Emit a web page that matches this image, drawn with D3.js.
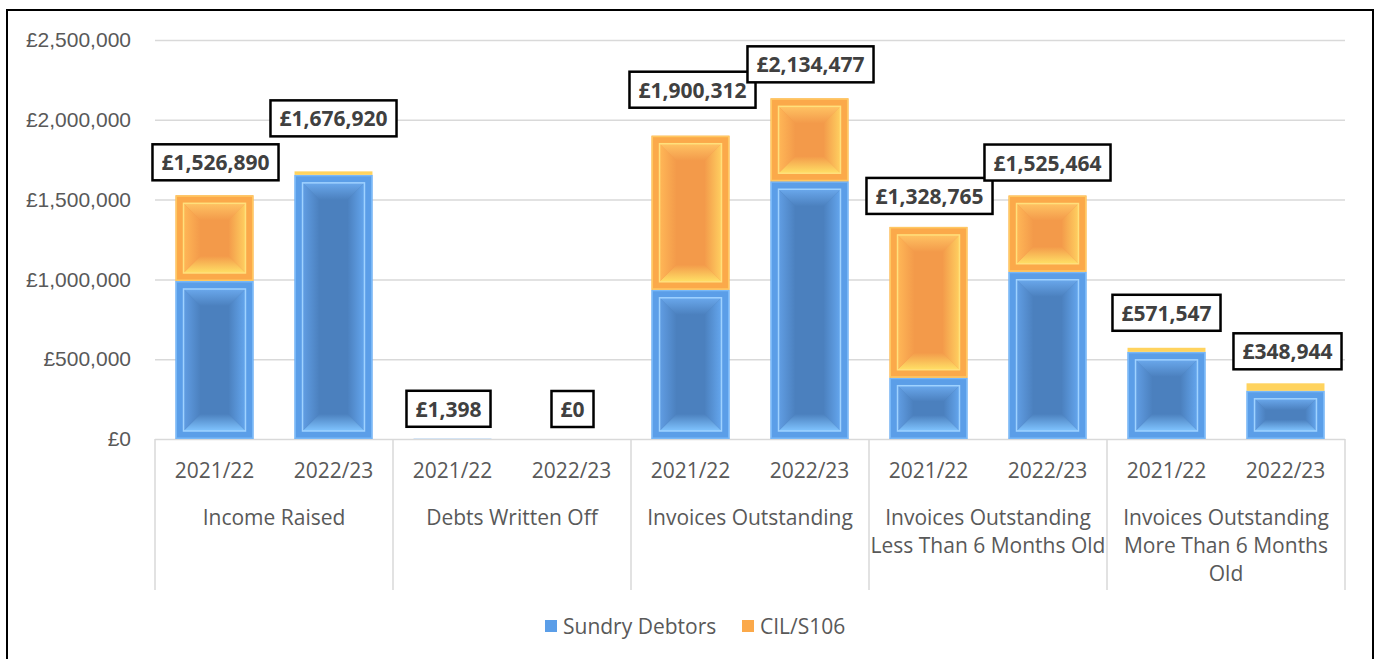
<!DOCTYPE html>
<html lang="en">
  <head>
    <meta charset="UTF-8" />
    <title>Sundry Debtors and CIL/S106</title>
    <script src="https://d3js.org/d3.v7.min.js"></script>
    <style>
      html, body { margin: 0; padding: 0; background: #fff; }
      svg { display: block; font-family: "Open Sans", "Noto Sans", sans-serif; }
      .tick-label { fill: #595959; font-size: 21px; }
      .value-label { fill: #404040; font-size: 21px; font-weight: bold; }
    </style>
  </head>
  <body>
    <div id="chart"></div>

    <script>
      // Données
      const categories = [
        "Income Raised",
        "Debts Written Off",
        "Invoices Outstanding",
        "Invoices Outstanding Less Than 6 Months Old",
        "Invoices Outstanding More Than 6 Months Old",
      ];
      const categoryLines = [
        ["Income Raised"],
        ["Debts Written Off"],
        ["Invoices Outstanding"],
        ["Invoices Outstanding", "Less Than 6 Months Old"],
        ["Invoices Outstanding", "More Than 6 Months", "Old"],
      ];
      const years = ["2021/22", "2022/23"];
      const seriesNames = ["Sundry Debtors", "CIL/S106"];

      // une valeur par barre : catégorie x année
      const sundryDebtors = [990000, 1655000, 1398, 0, 935000, 1615000, 384000, 1048000, 546000, 302000];
      const cilS106 = [536890, 21920, 0, 0, 965312, 519477, 944765, 477464, 25547, 46944];
      const yTicks = [0, 500000, 1000000, 1500000, 2000000, 2500000];

      // placement des étiquettes (px au-dessus du haut de la barre, décalage x)
      const labelLift = [33, 53, 30, 30, 46, 34, 31, 33, 35, 32];
      const labelShift = [1, 0, -4, 1, 2, 1, 1, 0, 0, 2];

      const width = 1382, height = 659;
      const plot = { left: 155, right: 1345, top: 40, bottom: 439 };

      const svg = d3.select("#chart").append("svg")
        .attr("width", width)
        .attr("height", height);

      svg.append("rect")
        .attr("width", width).attr("height", height)
        .attr("fill", "#fff");

      // cadre
      svg.append("rect")
        .attr("x", 7).attr("y", 10)
        .attr("width", 1366).attr("height", 680)
        .attr("fill", "none")
        .attr("stroke", "#000")
        .attr("stroke-width", 2);

      const y = d3.scaleLinear().domain([0, 2500000]).range([plot.bottom, plot.top]);
      const x0 = d3.scaleBand().domain(categories).range([plot.left, plot.right]);
      const x1 = d3.scaleBand().domain(years).range([0, x0.bandwidth()])
        .paddingInner(0.345).paddingOuter(0.1725);

      const fmt = (v) => "£" + d3.format(",")(v);

      // grille + axe y
      const yAxis = d3.axisLeft(y).tickValues(yTicks).tickFormat(fmt)
        .tickSize(-(plot.right - plot.left)).tickPadding(24);
      const gy = svg.append("g")
        .attr("transform", `translate(${plot.left},0)`)
        .call(yAxis);
      gy.select(".domain").remove();
      gy.selectAll(".tick line").attr("stroke", "#d9d9d9").attr("stroke-width", 1.5);
      gy.selectAll(".tick text").attr("class", "tick-label").attr("font-family", null).attr("font-size", null);

      // séparateurs de catégories
      const bounds = categories.map((c) => x0(c)).concat([plot.right]);
      svg.append("g").selectAll("line").data(bounds).join("line")
        .attr("x1", (d) => d).attr("x2", (d) => d)
        .attr("y1", plot.bottom).attr("y2", 590)
        .attr("stroke", "#d9d9d9").attr("stroke-width", 1.5);

      // dégradés pour le biseau
      const palettes = {
        blue: { band: "#5b9ee8", edge: "#78b8f8", line: "#9fd2ff", face: "#4b80be",
                top: "#6aa8ec", left: "#619ee4", right: "#64a6ee", bottom: "#80c4ff", thin: "#5b9ee8" },
        orange: { band: "#fba94a", edge: "#ffc862", line: "#ffe07c", face: "#f39a4a",
                  top: "#ffc363", left: "#ffb757", right: "#ffcf60", bottom: "#ffe066", thin: "#ffd35e" },
      };
      const defs = svg.append("defs");
      Object.entries(palettes).forEach(([key, p]) => {
        [["top", 0, 0, 0, 1], ["bottom", 0, 1, 0, 0], ["left", 0, 0, 1, 0], ["right", 1, 0, 0, 0]]
          .forEach(([side, ax, ay, bx, by]) => {
            const g = defs.append("linearGradient")
              .attr("id", `${key}-${side}`)
              .attr("x1", ax).attr("y1", ay).attr("x2", bx).attr("y2", by);
            g.append("stop").attr("offset", 0).attr("stop-color", p[side]);
            g.append("stop").attr("offset", 1).attr("stop-color", p.face);
          });
      });

      function drawSegment(g, bx, by, bw, bh, key) {
        const p = palettes[key];
        if (bh <= 0) return;
        if (bh < 20) {
          g.append("rect").attr("x", bx).attr("y", by).attr("width", bw).attr("height", bh)
            .attr("fill", p.thin);
          return;
        }
        g.append("rect").attr("x", bx).attr("y", by).attr("width", bw).attr("height", bh)
          .attr("fill", p.band);
        g.append("rect").attr("x", bx + 0.75).attr("y", by + 0.75)
          .attr("width", bw - 1.5).attr("height", bh - 1.5)
          .attr("fill", "none").attr("stroke", p.edge).attr("stroke-width", 1.5);
        const inset = 8;
        const ix = bx + inset, iy = by + inset, iw = bw - 2 * inset, ih = bh - 2 * inset;
        const d = Math.min(17, iw / 2, ih * 0.35);
        g.append("rect").attr("x", ix).attr("y", iy).attr("width", iw).attr("height", ih)
          .attr("fill", p.face);
        const a = [ix, iy], b = [ix + iw, iy], c = [ix + iw, iy + ih], e = [ix, iy + ih];
        const a2 = [ix + d, iy + d], b2 = [ix + iw - d, iy + d], c2 = [ix + iw - d, iy + ih - d], e2 = [ix + d, iy + ih - d];
        const sides = [
          ["top", [a, b, b2, a2]],
          ["right", [b, c, c2, b2]],
          ["bottom", [c, e, e2, c2]],
          ["left", [e, a, a2, e2]],
        ];
        sides.forEach(([side, pts]) => {
          g.append("polygon").attr("points", pts.map((q) => q.join(",")).join(" "))
            .attr("fill", `url(#${key}-${side})`);
        });
        g.append("rect").attr("x", ix).attr("y", iy).attr("width", iw).attr("height", ih)
          .attr("fill", "none").attr("stroke", p.line).attr("stroke-width", 1.5);
      }

      // barres empilées
      const bars = [];
      categories.forEach((cat, ci) => {
        years.forEach((yr, yi) => {
          const i = ci * years.length + yi;
          bars.push({ cat, yr, i, sundry: sundryDebtors[i], cil: cilS106[i] });
        });
      });

      const gBars = svg.append("g");
      bars.forEach((b) => {
        const bx = x0(b.cat) + x1(b.yr);
        const bw = x1.bandwidth();
        const g = gBars.append("g");
        const y0 = y(0), y1 = y(b.sundry), y2 = y(b.sundry + b.cil);
        drawSegment(g, bx, y1, bw, y0 - y1, "blue");
        drawSegment(g, bx, y2, bw, y1 - y2, "orange");
      });

      // étiquettes d'années
      svg.append("g").selectAll("text").data(bars).join("text")
        .attr("class", "tick-label")
        .attr("x", (b) => x0(b.cat) + x1(b.yr) + x1.bandwidth() / 2)
        .attr("y", 478)
        .attr("text-anchor", "middle")
        .text((b) => b.yr);

      // étiquettes de catégories
      categories.forEach((cat, ci) => {
        const t = svg.append("text")
          .attr("class", "tick-label")
          .attr("text-anchor", "middle");
        categoryLines[ci].forEach((line, li) => {
          t.append("tspan")
            .attr("x", x0(cat) + x0.bandwidth() / 2)
            .attr("y", 525 + li * 28)
            .text(line);
        });
      });

      // étiquettes de totaux
      const gLabels = svg.append("g");
      bars.forEach((b) => {
        const total = b.sundry + b.cil;
        const cx = x0(b.cat) + x1(b.yr) + x1.bandwidth() / 2 + labelShift[b.i];
        const cy = y(total) - labelLift[b.i];
        const g = gLabels.append("g");
        const box = g.append("rect");
        const txt = g.append("text")
          .attr("class", "value-label")
          .attr("x", cx).attr("y", cy)
          .attr("text-anchor", "middle")
          .attr("dominant-baseline", "central")
          .text(fmt(total));
        const w = txt.node().getComputedTextLength();
        box.attr("x", cx - w / 2 - 9).attr("y", cy - 18)
          .attr("width", w + 18).attr("height", 36)
          .attr("fill", "#fff").attr("stroke", "#000").attr("stroke-width", 2.5);
      });

      // légende
      const legendColors = ["blue", "orange"];
      const legendX = [545, 742];
      const gLegend = svg.append("g");
      seriesNames.forEach((name, i) => {
        const p = palettes[legendColors[i]];
        gLegend.append("rect")
          .attr("x", legendX[i]).attr("y", 620)
          .attr("width", 12).attr("height", 12)
          .attr("fill", p.band);
        gLegend.append("text")
          .attr("class", "tick-label")
          .attr("x", legendX[i] + 18).attr("y", 634)
          .text(name);
      });
    </script>
  </body>
</html>
